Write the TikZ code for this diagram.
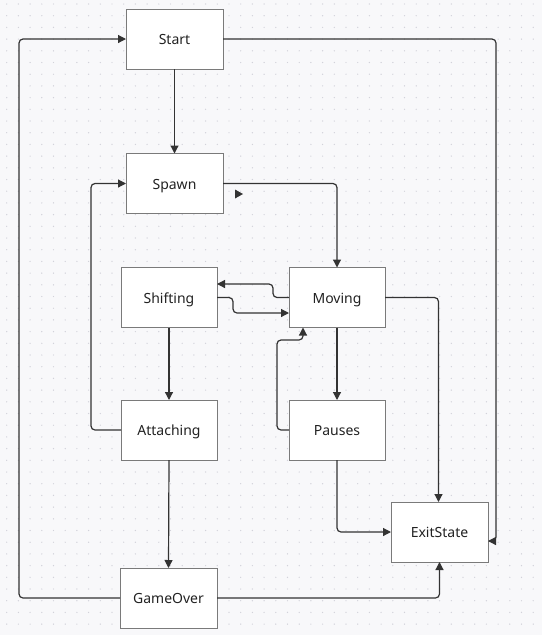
\documentclass[tikz,border=0pt]{standalone}
\usepackage{fontspec}
\setmainfont{Noto Sans}
\usetikzlibrary{arrows.meta}
\definecolor{canvas}{HTML}{F8F8FA}
\definecolor{griddot}{HTML}{D2D2DA}
\definecolor{boxline}{HTML}{7A7A7A}
\definecolor{wire}{HTML}{333333}
\definecolor{label}{HTML}{222222}
\begin{document}
\begin{tikzpicture}[x=1pt,y=-1pt,
  state/.style={draw=boxline,line width=1pt,fill=white,minimum width=97pt,
    minimum height=60pt,inner sep=0pt,outer sep=0pt,text=label,
    text height=11.5pt,text depth=0pt,
    font=\fontsize{14}{16}\selectfont,anchor=center},
  conn/.style={draw=wire,line width=1.2pt,rounded corners=4pt,
    -{Triangle[length=8pt,width=8pt]}}]
\useasboundingbox (0,0) rectangle (542,635);
\fill[canvas] (0,0) rectangle (542,635);
% dotted canvas grid
\foreach \i in {0,...,46}{
  \foreach \j in {0,...,54}{
    \fill[griddot] ({6.7+11.7*\i},{4+11.7*\j}) circle (0.7pt);
  }
}
% states
\node[state] (start) at (174.5,39) {Start};
\node[state] (spawn) at (174.5,183.5) {Spawn};
\node[state,minimum width=96pt] (shifting) at (169,297.5) {Shifting};
\node[state,minimum width=96pt] (moving) at (337,297.5) {Moving};
\node[state,minimum width=96pt] (attaching) at (169,430) {Attaching};
\node[state,minimum width=96pt] (pauses) at (337,430) {Pauses};
\node[state] (exit) at (439.5,532) {ExitState};
\node[state] (gameover) at (168.5,598) {GameOver};
% transitions
\draw[conn] (gameover.west) -- (19,598) |- (start.west);
\draw[conn] (start.east) -- (496,39) -- (496,541) -- ([yshift=-9pt]exit.east);
\draw[conn] (start.south) -- (spawn.north);
\draw[conn] (spawn.east) -| (moving.north);
\draw[conn] (moving.west) -- (273,297.5) -- (273,284) -- ([yshift=13.5pt]shifting.east);
\draw[conn] (shifting.east) -- (233,297.5) -- (233,313) -- ([yshift=-15.5pt]moving.west);
\draw[conn] (shifting.south) -- (attaching.north);
\draw[conn] (attaching.west) -- (91,430) |- (spawn.west);
\draw[conn] (moving.south) -- (pauses.north);
\draw[conn] (pauses.west) -- (277,430) -- (277,340) -- (303,340) -- ([xshift=-34pt]moving.south);
\draw[conn] (moving.east) -| ([xshift=-1pt]exit.north);
\draw[conn] (pauses.south) |- (exit.west);
\draw[conn] (attaching.south) -- (gameover.north);
\draw[conn] (gameover.east) -| (exit.south);
% loose arrow tip below Spawn
\fill[wire] (235,189.5) -- (243,194) -- (235,198.5) -- cycle;
\end{tikzpicture}
\end{document}
